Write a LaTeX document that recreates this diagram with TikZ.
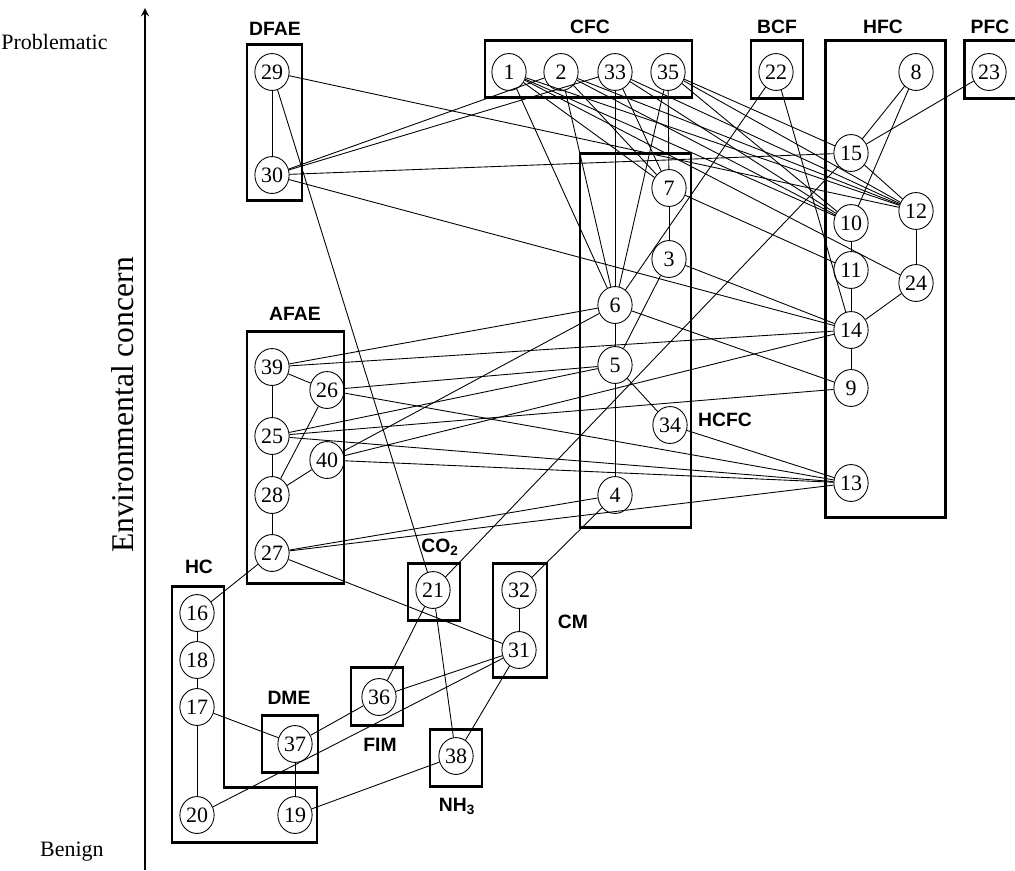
\documentclass[tikz,border=0pt]{standalone}
\usepackage{fontspec}
\setmainfont{Liberation Serif}
\newfontfamily\labfont{Liberation Sans}
\usetikzlibrary{arrows,shapes.geometric}

\begin{document}
\begin{tikzpicture}[x=0.02cm,y=-0.02cm,line width=0.5pt]
\tikzstyle{every node}=[ellipse, draw, inner sep=0pt, minimum width=19.5pt, minimum height=21pt, font=\fontsize{12.5}{14}\selectfont]
\tikzstyle{grp}=[line width=1.7pt]
\tikzstyle{lab}=[draw=none, rectangle, inner sep=0pt, minimum size=0pt, font=\labfont\bfseries\fontsize{11}{12}\selectfont]
\tikzstyle{axlab}=[draw=none, rectangle, inner sep=0pt, minimum size=0pt]
\useasboundingbox (0,0) rectangle (1015,870);
% axis
\coordinate (axbot) at (145,870);
\coordinate (axtop) at (145,8);
\draw[line width=1.1pt, -stealth] (axbot) -- (axtop);
\draw (108,42) node (tprob) [axlab, anchor=east, font=\fontsize{12.5}{14}\selectfont] {Problematic};
\draw (104,852) node (tben) [axlab, anchor=east, font=\fontsize{12.5}{14}\selectfont] {Benign};
\draw (123,405) node (tenv) [axlab, rotate=90, font=\fontsize{18}{20}\selectfont] {Environmental concern};
% groups
\draw[grp] (247,44) rectangle (302,200);
\draw[grp] (485,40) rectangle (692,97);
\draw[grp] (751,40) rectangle (803,98);
\draw[grp] (825,40) rectangle (945,517);
\draw[grp] (1020,40) -- (964,40) -- (964,98) -- (1020,98);
\draw[grp] (580,153) rectangle (691,527);
\draw[grp] (247,331) rectangle (344,583);
\draw[grp] (408,563) rectangle (460,620);
\draw[grp] (493,563) rectangle (547,677);
\draw[grp] (351,667) rectangle (403,725);
\draw[grp] (430,729) rectangle (482,786);
\draw[grp] (262,715) rectangle (318,772);
\draw[grp] (172,586) -- (224,586) -- (224,787) -- (317,787) -- (317,842) -- (172,842) -- cycle;
\draw (275,29) node (ldfae) [lab] {DFAE};
\draw (590,27) node (lcfc) [lab] {CFC};
\draw (777,27) node (lbcf) [lab] {BCF};
\draw (883,27) node (lhfc) [lab] {HFC};
\draw (990,27) node (lpfc) [lab] {PFC};
\draw (725,420) node (lhcfc) [lab] {HCFC};
\draw (295,314) node (lafae) [lab] {AFAE};
\draw (440,547) node (lco) [lab] {CO\textsubscript{2}};
\draw (573,622) node (lcm) [lab] {CM};
\draw (380,745) node (lfim) [lab] {FIM};
\draw (457,806) node (lnh) [lab] {NH\textsubscript{3}};
\draw (289,698) node (ldme) [lab] {DME};
\draw (199,567) node (lhc) [lab] {HC};
% substances
\draw (272,72) node (v29) {29};
\draw (272,175) node (v30) {30};
\draw (509,72) node (v1) {1};
\draw (561,72) node (v2) {2};
\draw (615,72) node (v33) {33};
\draw (668,72) node (v35) {35};
\draw (776,72) node (v22) {22};
\draw (916,72) node (v8) {8};
\draw (989,72) node (v23) {23};
\draw (851,153) node (v15) {15};
\draw (916,211) node (v12) {12};
\draw (851,223) node (v10) {10};
\draw (851,270) node (v11) {11};
\draw (916,283) node (v24) {24};
\draw (851,330) node (v14) {14};
\draw (851,388) node (v9) {9};
\draw (851,483) node (v13) {13};
\draw (669,188) node (v7) {7};
\draw (669,259) node (v3) {3};
\draw (615,305) node (v6) {6};
\draw (615,365) node (v5) {5};
\draw (670,425) node (v34) {34};
\draw (615,495) node (v4) {4};
\draw (272,367) node (v39) {39};
\draw (327,390) node (v26) {26};
\draw (272,436) node (v25) {25};
\draw (327,460) node (v40) {40};
\draw (272,495) node (v28) {28};
\draw (272,553) node (v27) {27};
\draw (433,590) node (v21) {21};
\draw (519,590) node (v32) {32};
\draw (519,650) node (v31) {31};
\draw (379,697) node (v36) {36};
\draw (456,756) node (v38) {38};
\draw (295,744) node (v37) {37};
\draw (197,613) node (v16) {16};
\draw (197,660) node (v18) {18};
\draw (197,707) node (v17) {17};
\draw (197,815) node (v20) {20};
\draw (295,815) node (v19) {19};
% links
\draw (v29) -- (v30);
\draw (v29) -- (v21);
\draw (v29) -- (v12);
\draw (v30) -- (v2);
\draw (v30) -- (v33);
\draw (v30) -- (v15);
\draw (v30) -- (v14);
\draw (v1) -- (v6);
\draw (v1) -- (v7);
\draw (v1) -- (v10);
\draw (v1) -- (v12);
\draw (v1) -- (v24);
\draw (v2) -- (v6);
\draw (v2) -- (v7);
\draw (v2) -- (v10);
\draw (v2) -- (v12);
\draw (v33) -- (v6);
\draw (v33) -- (v7);
\draw (v33) -- (v10);
\draw (v33) -- (v12);
\draw (v35) -- (v6);
\draw (v35) -- (v7);
\draw (v35) -- (v10);
\draw (v35) -- (v12);
\draw (v35) -- (v15);
\draw (v22) -- (v6);
\draw (v22) -- (v14);
\draw (v8) -- (v15);
\draw (v8) -- (v10);
\draw (v23) -- (v15);
\draw (v15) -- (v12);
\draw (v15) -- (v21);
\draw (v10) -- (v11);
\draw (v11) -- (v14);
\draw (v12) -- (v24);
\draw (v24) -- (v14);
\draw (v14) -- (v9);
\draw (v7) -- (v3);
\draw (v7) -- (v11);
\draw (v3) -- (v5);
\draw (v3) -- (v14);
\draw (v6) -- (v5);
\draw (v6) -- (v9);
\draw (v5) -- (v4);
\draw (v5) -- (v34);
\draw (v34) -- (v13);
\draw (v4) -- (v32);
\draw (v4) -- (v27);
\draw (v39) -- (v26);
\draw (v39) -- (v25);
\draw (v39) -- (v6);
\draw (v39) -- (v14);
\draw (v26) -- (v5);
\draw (v26) -- (v13);
\draw (v26) -- (v28);
\draw (v25) -- (v28);
\draw (v25) -- (v5);
\draw (v25) -- (v9);
\draw (v25) -- (v13);
\draw (v40) -- (v28);
\draw (v40) -- (v6);
\draw (v40) -- (v14);
\draw (v40) -- (v13);
\draw (v28) -- (v27);
\draw (v27) -- (v13);
\draw (v27) -- (v31);
\draw (v27) -- (v16);
\draw (v21) -- (v36);
\draw (v21) -- (v38);
\draw (v32) -- (v31);
\draw (v31) -- (v36);
\draw (v31) -- (v20);
\draw (v31) -- (v38);
\draw (v36) -- (v37);
\draw (v37) -- (v17);
\draw (v37) -- (v19);
\draw (v16) -- (v18);
\draw (v18) -- (v17);
\draw (v17) -- (v20);
\draw (v38) -- (v19);
\end{tikzpicture}
\end{document}
